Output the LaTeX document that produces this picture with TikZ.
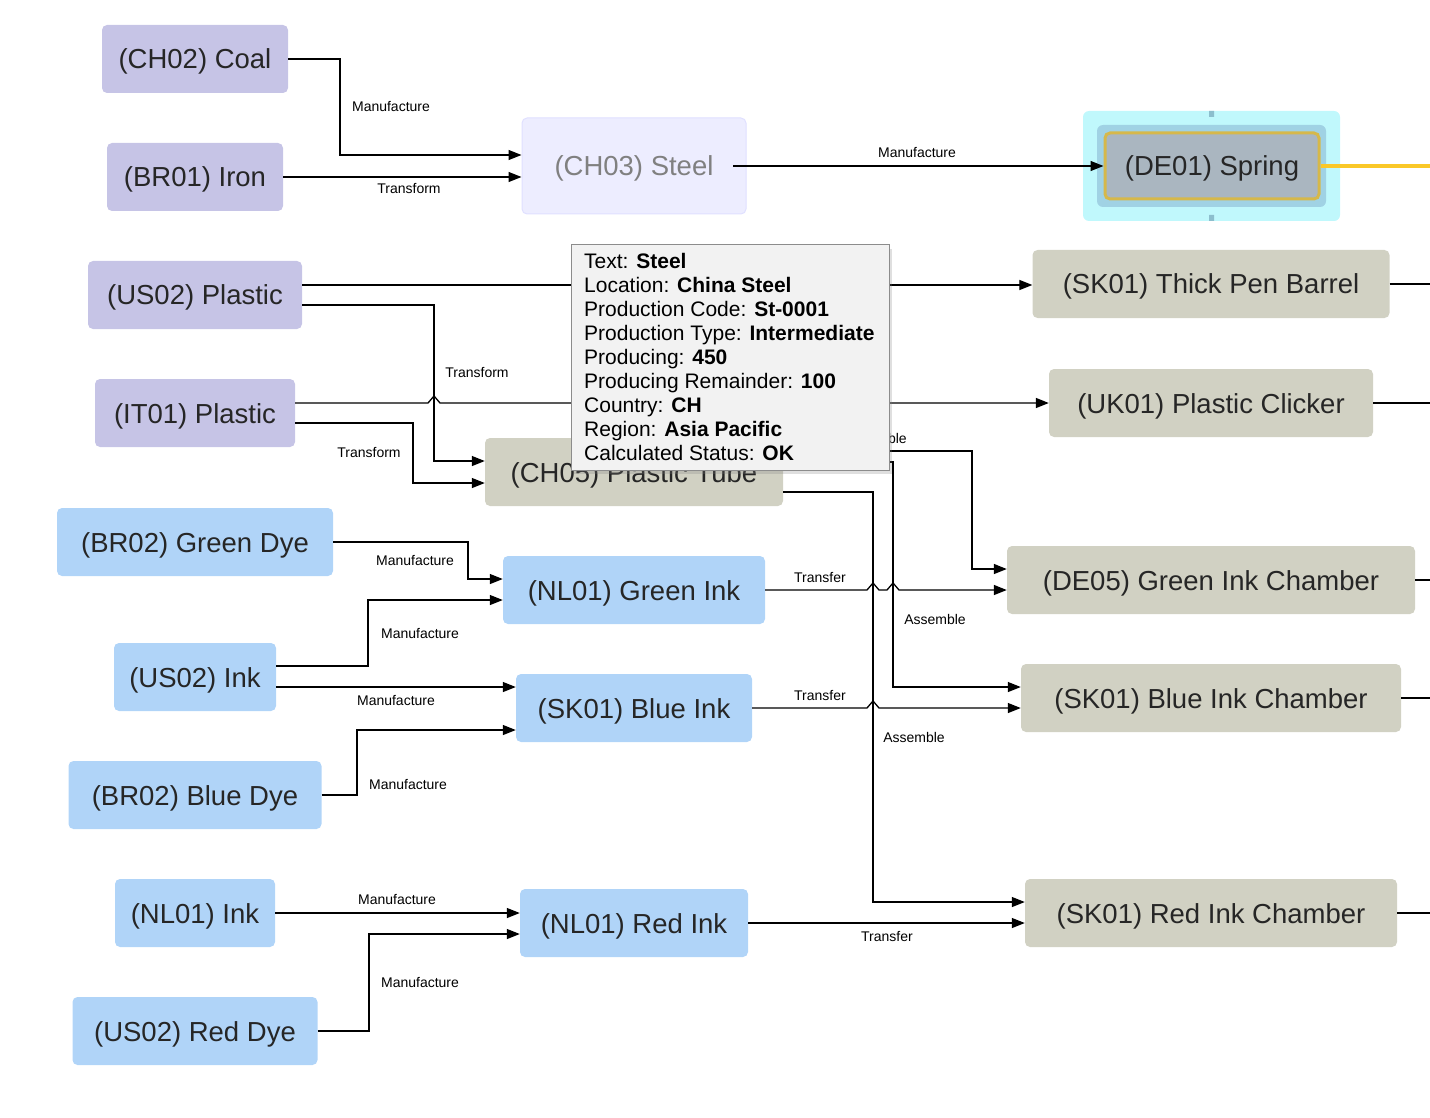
\documentclass[tikz,border=0pt]{standalone}
\usepackage{fontspec}
\setmainfont{Liberation Sans}
\usetikzlibrary{arrows.meta,shadows}
\definecolor{pur}{HTML}{C6C4E6}
\definecolor{blu}{HTML}{B0D4F8}
\definecolor{gry}{HTML}{D1D1C3}
\definecolor{sprout}{HTML}{C0F8FC}
\definecolor{sprin}{HTML}{A0D2E4}
\definecolor{sprhd}{HTML}{8CBECD}
\definecolor{sprnode}{HTML}{AAB6C0}
\definecolor{sprbd}{HTML}{D6B84A}
\definecolor{yel}{HTML}{FAC828}
\begin{document}
\begin{tikzpicture}[x=1pt,y=-1pt,
 box/.style={rounded corners=5pt,minimum height=68pt,inner sep=0pt,font=\fontsize{27.5}{30}\selectfont,text=black!85,text height=24pt,text depth=4pt},
 P/.style={box,fill=pur},B/.style={box,fill=blu},G/.style={box,fill=gry},
 e/.style={line width=1.3pt,-{Triangle[length=13pt,width=10pt]}},
 l/.style={line width=1.3pt},
 lb/.style={font=\fontsize{14}{16}\selectfont,inner sep=0pt}]
\useasboundingbox (0,0) rectangle (1430,1118);
% nodes
\node[P,minimum width=186] (coal) at (195,59) {(CH02) Coal};
\node[P,minimum width=176] (iron) at (195,177) {(BR01) Iron};
\node[P,minimum width=214] (usp) at (195,295) {(US02) Plastic};
\node[P,minimum width=200] (itp) at (195,413) {(IT01) Plastic};
\node[box,fill=blue!7,draw=blue!12,line width=1pt,minimum width=224,minimum height=96,text=black!50] (steel) at (634,166) {(CH03) Steel};
\node[B,minimum width=276] (gdye) at (195,542) {(BR02) Green Dye};
\node[B,minimum width=162] (ink) at (195,677) {(US02) Ink};
\node[B,minimum width=253] (bdye) at (195,795) {(BR02) Blue Dye};
\node[B,minimum width=160] (nink) at (195,913) {(NL01) Ink};
\node[B,minimum width=245] (rdye) at (195,1031) {(US02) Red Dye};
\node[B,minimum width=262] (gink) at (634,590) {(NL01) Green Ink};
\node[B,minimum width=236] (bink) at (634,708) {(SK01) Blue Ink};
\node[B,minimum width=228] (rink) at (634,923) {(NL01) Red Ink};
\node[G,minimum width=298] (tube) at (634,472) {(CH05) Plastic Tube};
\node[G,minimum width=357] (barrel) at (1211,284) {(SK01) Thick Pen Barrel};
\node[G,minimum width=324] (click) at (1211,403) {(UK01) Plastic Clicker};
\node[G,minimum width=408] (gch) at (1211,580) {(DE05) Green Ink Chamber};
\node[G,minimum width=380] (bch) at (1211,698) {(SK01) Blue Ink Chamber};
\node[G,minimum width=372] (rch) at (1211,913) {(SK01) Red Ink Chamber};
% spring
\fill[sprout,rounded corners=6pt] (1083,111) rectangle (1340,221);
\fill[sprin,rounded corners=6pt] (1097,125) rectangle (1326,207);
\fill[sprhd] (1209,111) rectangle (1214,117) (1209,215) rectangle (1214,221);
\node[box,fill=sprnode,draw=sprbd,line width=3pt,minimum width=214,minimum height=66] (spring) at (1212,166) {(DE01) Spring};
\coordinate (o0) at (1430,166);
\draw[line width=4pt,yel] (spring.east) -- (o0);
% edges
\draw[e] (coal.east) -- (340,59) -- (340,155) -- (steel.west|-0,155);
\node[lb] at (391,107) {Manufacture};
\draw[e] (iron.east) -- (steel.west|-0,177);
\node[lb] at (409,189) {Transform};
\draw[e] (733,166) -- (spring.west);
\node[lb] at (917,153) {Manufacture};
\draw[e] (usp.east|-0,285) -- (barrel.west|-0,285);
\draw[e] (usp.east|-0,305) -- (434,305) -- (434,461) -- (tube.west|-0,461);
\node[lb] at (477,373) {Transform};
\draw[e] (itp.east|-0,403) -- (428,403) -- (434,396) -- (440,403) -- (click.west|-0,403);
\draw[e] (itp.east|-0,423) -- (413,423) -- (413,483) -- (tube.west|-0,483);
\node[lb] at (369,453) {Transform};
\draw[e] (tube.east|-0,451) -- (972,451) -- (972,569) -- (gch.west|-0,569);
\node[lb] at (876,438) {Assemble};
\draw[e] (tube.east|-0,462) -- (893,462) -- (893,687) -- (bch.west|-0,687);
\node[lb] at (935,619) {Assemble};
\draw[e] (tube.east|-0,492) -- (873,492) -- (873,902) -- (rch.west|-0,902);
\node[lb] at (914,737) {Assemble};
\draw[e] (gdye.east) -- (468,542) -- (468,579) -- (gink.west|-0,579);
\node[lb] at (415,560) {Manufacture};
\draw[e] (ink.east|-0,666) -- (368,666) -- (368,600) -- (gink.west|-0,600);
\node[lb] at (420,633) {Manufacture};
\draw[e] (ink.east|-0,687) -- (bink.west|-0,687);
\node[lb] at (396,700) {Manufacture};
\draw[e] (bdye.east) -- (357,795) -- (357,730) -- (bink.west|-0,730);
\node[lb] at (408,784) {Manufacture};
\draw[e] (gink.east) -- (867,590) -- (873,583) -- (879,590) -- (887,590) -- (893,583) -- (899,590) -- (gch.west|-0,590);
\node[lb] at (820,577) {Transfer};
\draw[e] (bink.east) -- (867,708) -- (873,701) -- (879,708) -- (bch.west|-0,708);
\node[lb] at (820,695) {Transfer};
\draw[e] (nink.east) -- (rink.west|-0,913);
\node[lb] at (397,899) {Manufacture};
\draw[e] (rdye.east) -- (369,1031) -- (369,934) -- (rink.west|-0,934);
\node[lb] at (420,982) {Manufacture};
\draw[e] (rink.east) -- (rch.west|-0,923);
\node[lb] at (887,936) {Transfer};
\coordinate (o1) at (1430,284);\coordinate (o2) at (1430,403);\coordinate (o3) at (1430,580);\coordinate (o4) at (1430,698);\coordinate (o5) at (1430,913);
\draw[l] (barrel.east) -- (o1); \draw[l] (click.east) -- (o2); \draw[l] (gch.east) -- (o3); \draw[l] (bch.east) -- (o4); \draw[l] (rch.east) -- (o5);
% tooltip
\node[draw=black!45,line width=1pt,fill=black!5,drop shadow={opacity=0.25,shadow xshift=3pt,shadow yshift=-4pt},minimum width=318,minimum height=225,inner sep=0pt] (tip) at (730,357.5) {};
\node[anchor=north west,inner sep=0pt,align=left,font=\fontsize{21}{24}\selectfont] (tiptext) at (584,253) {Text: \textbf{Steel}\\Location: \textbf{China Steel}\\Production Code: \textbf{St-0001}\\Production Type: \textbf{Intermediate}\\Producing: \textbf{450}\\Producing Remainder: \textbf{100}\\Country: \textbf{CH}\\Region: \textbf{Asia Pacific}\\Calculated Status: \textbf{OK}};
\end{tikzpicture}
\end{document}
